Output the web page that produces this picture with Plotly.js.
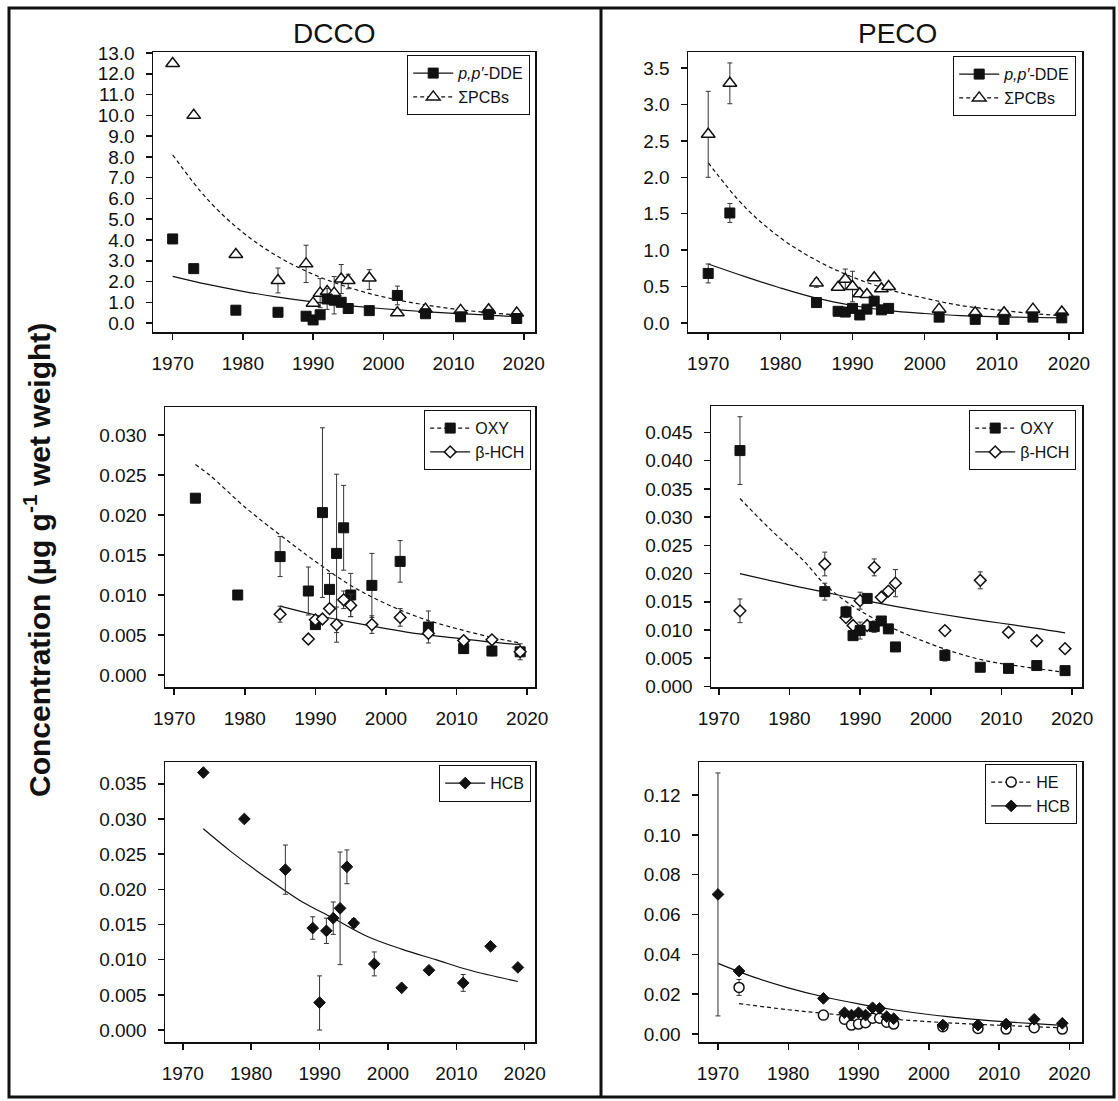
<!DOCTYPE html>
<html>
<head>
<meta charset="utf-8">
<script src="https://cdn.plot.ly/plotly-3.0.1.min.js"></script>
<style>html,body{margin:0;padding:0;background:#fff;}#chart{width:1118px;height:1101px;}</style>
</head>
<body>
<div id="chart"></div>
<script>
// ---------------- DATA ----------------
// DCCO, top panel
const dccoYears1 = [1970,1973,1979,1985,1989,1990,1991,1992,1993,1994,1995,1998,2002,2006,2011,2015,2019];
const dccoDDE    = [4.05,2.62,0.62,0.52,0.33,0.15,0.40,1.16,1.10,1.00,0.70,0.60,1.33,0.45,0.30,0.42,0.22];
const dccoDDEErr = [null,null,null,null,null,null,null,0.50,null,null,null,null,0.45,null,null,null,null];
const dccoPCB    = [12.5,10.0,3.30,2.05,2.85,0.96,1.44,1.52,1.44,2.12,2.05,2.17,0.50,0.67,0.61,0.64,0.48];
const dccoPCBErrP= [null,null,null,0.60,0.90,null,0.70,null,0.80,0.70,0.30,0.40,null,null,null,null,null];
const dccoPCBErrM= [null,null,null,0.60,0.90,null,0.70,null,1.00,0.70,0.40,0.55,null,null,null,null,null];
const dccoFit1Years = [1970,1975,1980,1985,1990,1995,2000,2005,2010,2015,2019];
const dccoDDEFit = [2.25,1.86,1.53,1.25,1.02,0.84,0.69,0.57,0.47,0.38,0.31];
const dccoPCBFit = [8.10,5.94,4.36,3.20,2.35,1.72,1.26,0.93,0.68,0.50,0.40];

// PECO, top panel
const pecoYears1 = [1970,1973,1985,1988,1989,1990,1991,1992,1993,1994,1995,2002,2007,2011,2015,2019];
const pecoDDE    = [0.68,1.51,0.28,0.16,0.15,0.20,0.11,0.19,0.30,0.18,0.20,0.08,0.05,0.05,0.08,0.07];
const pecoDDEErr = [0.13,0.13,null,null,null,null,null,null,null,null,null,null,null,null,null,null];
const pecoPCB    = [2.59,3.29,0.55,0.49,0.60,0.50,0.40,0.39,0.62,0.47,0.50,0.19,0.14,0.14,0.19,0.15];
const pecoPCBErrP= [0.59,0.28,0.06,null,0.14,0.21,null,null,null,null,null,null,null,null,null,null];
const pecoPCBErrM= [0.59,0.28,0.06,null,0.14,0.21,null,null,null,null,null,null,null,null,null,null];
const pecoFit1Years = [1970,1975,1980,1985,1990,1995,2000,2005,2010,2015,2019];
const pecoDDEFit = [0.81,0.64,0.48,0.34,0.24,0.17,0.13,0.10,0.085,0.075,0.07];
const pecoPCBFit = [2.20,1.60,1.17,0.86,0.63,0.46,0.34,0.24,0.18,0.13,0.10];

// DCCO, middle panel
const dccoYears2 = [1973,1979,1985,1989,1990,1991,1992,1993,1994,1995,1998,2002,2006,2011,2015,2019];
const dccoOXY    = [0.0221,0.0100,0.0148,0.0105,0.0063,0.0203,0.0107,0.0152,0.0184,0.0100,0.0112,0.0142,0.0060,0.0033,0.0030,0.0029];
const dccoOXYErr = [null,null,0.0025,0.0030,null,0.0106,0.0020,0.0099,0.0053,0.0027,0.0040,0.0026,0.0020,0.0006,0.0006,0.0010];
const dccoHCHYears = [1985,1989,1990,1991,1992,1993,1994,1995,1998,2002,2006,2011,2015,2019];
const dccoHCH    = [0.0076,0.0045,0.0069,0.0070,0.0083,0.0063,0.0094,0.0087,0.0063,0.0072,0.0052,0.0043,0.0044,0.0029];
const dccoHCHErr = [0.0010,null,null,null,null,0.0022,0.0011,0.0014,0.0011,0.0011,null,null,null,null];
const dccoOXYFitYears = [1973,1975,1980,1985,1990,1995,2000,2005,2010,2015,2019];
const dccoOXYFit = [0.0263,0.0250,0.0210,0.0175,0.0142,0.0112,0.0089,0.0071,0.0058,0.0047,0.0040];
const dccoHCHFitYears = [1985,1990,1995,2000,2005,2010,2015,2019];
const dccoHCHFit = [0.0086,0.0075,0.0066,0.0058,0.0051,0.0046,0.0041,0.0038];

// PECO, middle panel
const pecoYears2 = [1973,1985,1988,1989,1990,1991,1992,1993,1994,1995,2002,2007,2011,2015,2019];
const pecoOXY    = [0.0418,0.0168,0.0132,0.0090,0.0099,0.0156,0.0106,0.0116,0.0102,0.0070,0.0055,0.0034,0.0032,0.0037,0.0028];
const pecoOXYErr = [0.0060,0.0015,0.0010,null,0.0015,null,0.0010,null,null,null,0.0010,null,null,null,null];
const pecoHCH    = [0.0134,0.0217,0.0122,0.0108,0.0152,0.0108,0.0211,0.0158,0.0169,0.0183,0.0099,0.0188,0.0096,0.0081,0.0067];
const pecoHCHErr = [0.0021,0.0021,null,null,0.0015,null,0.0015,null,null,0.0024,null,0.0015,null,null,null];
const pecoOXYFitYears = [1973,1977,1982,1985,1989,1994,1998,2003,2008,2013,2019];
const pecoOXYFit = [0.0333,0.0282,0.0223,0.0181,0.0142,0.0107,0.0085,0.0062,0.0045,0.0035,0.0025];
const pecoHCHFitYears = [1973,1980,1985,1990,1995,2000,2005,2010,2015,2019];
const pecoHCHFit = [0.0200,0.0180,0.0167,0.0154,0.0142,0.0131,0.0121,0.0112,0.0103,0.0095];

// DCCO, bottom panel
const dccoYears3 = [1973,1979,1985,1989,1990,1991,1992,1993,1994,1995,1998,2002,2006,2011,2015,2019];
const dccoHCB    = [0.0366,0.0300,0.0228,0.0145,0.0039,0.0141,0.0159,0.0173,0.0232,0.0152,0.0094,0.0060,0.0085,0.0067,0.0119,0.0089];
const dccoHCBErrP= [null,null,0.0035,0.0016,0.0038,0.0018,0.0023,0.0080,0.0024,0.0006,0.0017,null,null,0.0012,null,null];
const dccoHCBErrM= [null,null,0.0035,0.0016,0.0039,0.0018,0.0023,0.0080,0.0024,0.0006,0.0017,null,null,0.0012,null,null];
const dccoHCBFitYears = [1973,1977,1982,1987,1992,1997,2002,2007,2012,2019];
const dccoHCBFit = [0.0286,0.0254,0.0218,0.0185,0.0159,0.0133,0.0115,0.0100,0.0085,0.0069];

// PECO, bottom panel
const pecoYears3 = [1970,1973,1985,1988,1989,1990,1991,1992,1993,1994,1995,2002,2007,2011,2015,2019];
const pecoHCB    = [0.0701,0.0316,0.0179,0.0107,0.0095,0.0107,0.0095,0.0132,0.0129,0.0087,0.0077,0.0045,0.0045,0.0050,0.0074,0.0054];
const pecoHCBErr = [0.0610,null,null,null,null,null,null,null,null,null,null,null,null,null,null,null];
const pecoHEYears = [1973,1985,1988,1989,1990,1991,1992,1993,1994,1995,2002,2007,2011,2015,2019];
const pecoHE     = [0.0234,0.0095,0.0074,0.0045,0.0050,0.0057,0.0079,0.0079,0.0059,0.0050,0.0037,0.0028,0.0025,0.0032,0.0025];
const pecoHEErr  = [0.0040,null,null,null,null,null,null,null,null,null,null,null,null,null,null];
const pecoHCBFitYears = [1970,1975,1980,1985,1990,1995,2000,2005,2010,2015,2019];
const pecoHCBFit = [0.0355,0.0287,0.0232,0.0187,0.0151,0.0122,0.0098,0.0079,0.0064,0.0052,0.0043];
const pecoHEFitYears = [1973,1980,1985,1990,1995,2000,2005,2010,2015,2019];
const pecoHEFit = [0.0153,0.0122,0.0104,0.0088,0.0074,0.0062,0.0052,0.0044,0.0037,0.0031];

const colTitles = ['DCCO','PECO'];
const yTitle = 'Concentration (µg g<sup>-1</sup> wet weight)';
const xTicks = [1970,1980,1990,2000,2010,2020];

// ---------------- STYLE / LAYOUT ----------------
const W = 1118, H = 1101;
const FONT = 'Liberation Sans, Arial, Helvetica, sans-serif';
const INK = '#111';
const px = p => p / W;
const py = p => 1 - p / H;

const SOLID = {color: INK, width: 1.2};
const DASH = {color: INK, width: 1.2, dash: '4px,3px'};
const ERR = (p, m) => ({type: 'data', symmetric: false, array: p, arrayminus: m || p,
  color: '#333', thickness: 1, width: 2.5});

const M = {
  sqFill: {symbol: 'square', size: 10, color: INK, line: {color: INK, width: 1}},
  triOpen: {symbol: 'triangle-up', size: 12, color: '#fff', line: {color: INK, width: 1.5}},
  diaOpen: {symbol: 'diamond', size: 9, color: '#fff', line: {color: INK, width: 1.5}},
  diaFill: {symbol: 'diamond', size: 9, color: INK, line: {color: INK, width: 1}},
  cirOpen: {symbol: 'circle', size: 10, color: '#fff', line: {color: INK, width: 1.5}}
};

const traces = [];
function fit(ax, xs, ys, line) {
  traces.push({x: xs, y: ys, mode: 'lines', line: Object.assign({shape: 'spline', smoothing: 1}, line),
    xaxis: 'x' + ax, yaxis: 'y' + ax, showlegend: false, hoverinfo: 'skip'});
}
function pts(ax, xs, ys, marker, err) {
  const t = {x: xs, y: ys, mode: 'markers', marker: marker, xaxis: 'x' + ax, yaxis: 'y' + ax, showlegend: false};
  if (err) t.error_y = err;
  traces.push(t);
}
function leg(ax, name, marker, line, legendId) {
  traces.push({x: [null], y: [null], mode: 'lines+markers', name: name, marker: marker, line: line,
    xaxis: 'x' + ax, yaxis: 'y' + ax, legend: legendId, showlegend: true});
}

// Panel 1: DCCO top
fit('', dccoFit1Years, dccoDDEFit, SOLID);
fit('', dccoFit1Years, dccoPCBFit, DASH);
pts('', dccoYears1, dccoPCB, M.triOpen, ERR(dccoPCBErrP, dccoPCBErrM));
pts('', dccoYears1, dccoDDE, M.sqFill, ERR(dccoDDEErr));
leg('', '<i>p,p′</i>-DDE', M.sqFill, SOLID, 'legend');
leg('', 'ΣPCBs', M.triOpen, DASH, 'legend');
// Panel 2: PECO top
fit('2', pecoFit1Years, pecoDDEFit, SOLID);
fit('2', pecoFit1Years, pecoPCBFit, DASH);
pts('2', pecoYears1, pecoPCB, M.triOpen, ERR(pecoPCBErrP, pecoPCBErrM));
pts('2', pecoYears1, pecoDDE, M.sqFill, ERR(pecoDDEErr));
leg('2', '<i>p,p′</i>-DDE', M.sqFill, SOLID, 'legend2');
leg('2', 'ΣPCBs', M.triOpen, DASH, 'legend2');
// Panel 3: DCCO middle
fit('3', dccoOXYFitYears, dccoOXYFit, DASH);
fit('3', dccoHCHFitYears, dccoHCHFit, SOLID);
pts('3', dccoYears2, dccoOXY, M.sqFill, ERR(dccoOXYErr));
pts('3', dccoHCHYears, dccoHCH, M.diaOpen, ERR(dccoHCHErr));
leg('3', 'OXY', M.sqFill, DASH, 'legend3');
leg('3', 'β-HCH', M.diaOpen, SOLID, 'legend3');
// Panel 4: PECO middle
fit('4', pecoOXYFitYears, pecoOXYFit, DASH);
fit('4', pecoHCHFitYears, pecoHCHFit, SOLID);
pts('4', pecoYears2, pecoHCH, M.diaOpen, ERR(pecoHCHErr));
pts('4', pecoYears2, pecoOXY, M.sqFill, ERR(pecoOXYErr));
leg('4', 'OXY', M.sqFill, DASH, 'legend4');
leg('4', 'β-HCH', M.diaOpen, SOLID, 'legend4');
// Panel 5: DCCO bottom
fit('5', dccoHCBFitYears, dccoHCBFit, SOLID);
pts('5', dccoYears3, dccoHCB, M.diaFill, ERR(dccoHCBErrP, dccoHCBErrM));
leg('5', 'HCB', M.diaFill, SOLID, 'legend5');
// Panel 6: PECO bottom
fit('6', pecoHEFitYears, pecoHEFit, DASH);
fit('6', pecoHCBFitYears, pecoHCBFit, SOLID);
pts('6', pecoHEYears, pecoHE, M.cirOpen, ERR(pecoHEErr));
pts('6', pecoYears3, pecoHCB, M.diaFill, ERR(pecoHCBErr));
leg('6', 'HE', M.cirOpen, DASH, 'legend6');
leg('6', 'HCB', M.diaFill, SOLID, 'legend6');

// panel frames in pixels: [left, right, top, bottom], x range, y range, y dtick, y format
const panels = [
  {id: '',  box: [153, 535, 52, 332],  xr: [1967.2, 2021.6], yr: [-0.43, 13.05], dt: 1, fmt: '.1f'},
  {id: '2', box: [688, 1082, 52, 332], xr: [1967.2, 2021.8], yr: [-0.124, 3.72], dt: 0.5, fmt: '.1f'},
  {id: '3', box: [165, 535, 407, 687], xr: [1968.7, 2021.1], yr: [-0.0015, 0.0335], dt: 0.005, fmt: '.3f'},
  {id: '4', box: [711, 1082, 406, 687], xr: [1968.9, 2021.4], yr: [-0.0001, 0.0497], dt: 0.005, fmt: '.3f'},
  {id: '5', box: [165, 535, 762, 1042], xr: [1967.4, 2021.5], yr: [-0.0017, 0.0381], dt: 0.005, fmt: '.3f'},
  {id: '6', box: [699, 1082, 762, 1042], xr: [1967.3, 2021.8], yr: [-0.004, 0.1366], dt: 0.02, fmt: '.2f'}
];
const legendPos = [
  {key: 'legend',  r: 530, t: 55},
  {key: 'legend2', r: 1076, t: 56},
  {key: 'legend3', r: 531, t: 410},
  {key: 'legend4', r: 1076, t: 410},
  {key: 'legend5', r: 531, t: 765},
  {key: 'legend6', r: 1077, t: 764}
];

const layout = {
  width: W, height: H,
  margin: {l: 0, r: 0, t: 0, b: 0, pad: 0},
  paper_bgcolor: '#fff', plot_bgcolor: '#fff',
  font: {family: FONT, color: INK, size: 19},
  annotations: [], shapes: []
};
const tickFont = {family: FONT, size: 19, color: INK};
panels.forEach(p => {
  const [l, r, t, b] = p.box;
  layout['xaxis' + p.id] = {
    domain: [px(l), px(r)], range: p.xr, anchor: 'y' + p.id,
    tickmode: 'array', tickvals: xTicks, ticks: 'outside', ticklen: 6, tickwidth: 1.5, tickcolor: INK,
    showline: true, mirror: true, linecolor: INK, linewidth: 1.5, showgrid: false, zeroline: false,
    tickfont: tickFont, ticklabelstandoff: 8, fixedrange: true
  };
  layout['yaxis' + p.id] = {
    domain: [py(b), py(t)], range: p.yr, anchor: 'x' + p.id,
    tick0: 0, dtick: p.dt, tickformat: p.fmt, ticks: 'outside', ticklen: 6, tickwidth: 1.5, tickcolor: INK,
    showline: true, mirror: true, linecolor: INK, linewidth: 1.5, showgrid: false, zeroline: false,
    tickfont: tickFont, ticklabelstandoff: 7, fixedrange: true
  };
});
legendPos.forEach(lp => {
  layout[lp.key] = {
    x: px(lp.r), y: py(lp.t), xanchor: 'right', yanchor: 'top',
    xref: 'paper', yref: 'paper',
    bgcolor: '#fff', bordercolor: INK, borderwidth: 1.2,
    font: {family: FONT, size: 16, color: INK}, itemwidth: 40, tracegroupgap: 0
  };
});

// column titles
layout.annotations.push({text: colTitles[0], x: px(334), y: py(33), xref: 'paper', yref: 'paper',
  showarrow: false, xanchor: 'center', yanchor: 'middle', font: {family: FONT, size: 28, color: INK}});
layout.annotations.push({text: colTitles[1], x: px(897), y: py(33), xref: 'paper', yref: 'paper',
  showarrow: false, xanchor: 'center', yanchor: 'middle', font: {family: FONT, size: 28, color: INK}});
// shared y title
layout.annotations.push({text: '<b>' + yTitle + '</b>', x: px(37), y: py(560), xref: 'paper', yref: 'paper',
  showarrow: false, textangle: -90, xanchor: 'center', yanchor: 'middle',
  font: {family: FONT, size: 30, color: INK}});

// outer frame and column divider
layout.shapes.push({type: 'rect', xref: 'paper', yref: 'paper', x0: px(9), x1: px(W - 4), y0: py(H - 4), y1: py(8),
  line: {color: INK, width: 3}, fillcolor: 'rgba(0,0,0,0)', layer: 'above'});
layout.shapes.push({type: 'line', xref: 'paper', yref: 'paper', x0: px(601), x1: px(601), y0: py(H - 4), y1: py(8),
  line: {color: INK, width: 3}, layer: 'above'});

Plotly.newPlot('chart', traces, layout, {staticPlot: true, displayModeBar: false});
</script>
</body>
</html>
